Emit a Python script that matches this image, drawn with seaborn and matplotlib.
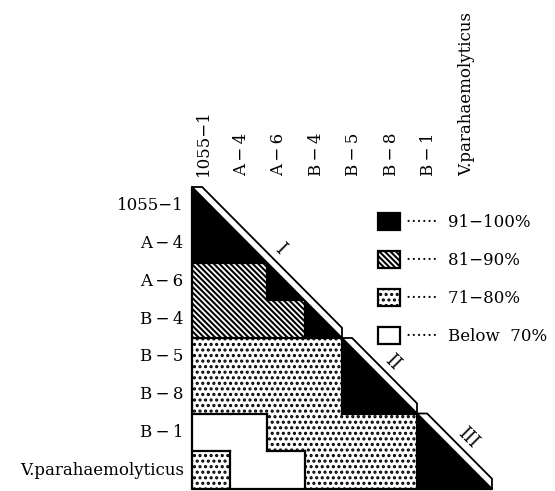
import numpy as np
import pandas as pd
import matplotlib
matplotlib.use("Agg")
import matplotlib.pyplot as plt
import seaborn as sns
from matplotlib.colors import ListedColormap
from matplotlib.patches import Polygon, Rectangle, Patch
from matplotlib.transforms import ScaledTranslation

# --- Strains (rows / columns) ---
strains = ["1055−1", "A\u2009−\u20094", "A\u2009−\u20096", "B\u2009−\u20094",
           "B\u2009−\u20095", "B\u2009−\u20098", "B\u2009−\u20091", "V.parahaemolyticus"]

# --- Similarity class, lower triangle incl. diagonal ---
# 3: 91-100%, 2: 81-90%, 1: 71-80%, 0: below 70%
row_1055_1 = [3]
row_a4 = [3, 3]
row_a6 = [2, 2, 3]
row_b4 = [2, 2, 2, 3]
row_b5 = [1, 1, 1, 1, 3]
row_b8 = [1, 1, 1, 1, 3, 3]
row_b1 = [0, 0, 1, 1, 1, 1, 3]
row_vp = [1, 0, 0, 1, 1, 1, 3, 3]
rows = [row_1055_1, row_a4, row_a6, row_b4, row_b5, row_b8, row_b1, row_vp]

# --- Clusters along the diagonal ---
cluster_names = ["I", "II", "III"]
cluster_sizes = [4, 2, 2]

# --- Legend ---
class_codes = [3, 2, 1, 0]
class_labels = ["91−100%", "81−90%", "71−80%", "Below  70%"]

# --- Style per class ---
fills = {3: "black", 2: "white", 1: "white", 0: "white"}
hatches = {3: None, 2: "\\\\\\\\\\\\", 1: "...", 0: None}

sns.set_theme(style="white")
plt.rcParams["font.family"] = ["DejaVu Serif", "Liberation Serif"]
plt.rcParams["text.color"] = "black"
plt.rcParams["xtick.color"] = "black"
plt.rcParams["ytick.color"] = "black"
plt.rcParams["hatch.linewidth"] = 1.5

n = len(strains)
mat = np.full((n, n), np.nan)
for i, r in enumerate(rows):
    mat[i, :len(r)] = r
df = pd.DataFrame(mat, index=strains, columns=strains)

fig = plt.figure(figsize=(5.55, 4.91), dpi=100)
ax = fig.add_axes([192 / 555, 2 / 491, 300 / 555, 302 / 491])

cmap = ListedColormap([fills[k] for k in range(4)])
mask = np.triu(np.ones((n, n), dtype=bool))  # diagonal drawn as half cells below
sns.heatmap(df, mask=mask, cmap=cmap, vmin=-0.5, vmax=3.5, cbar=False, ax=ax)

# diagonal half cells
for k in range(n):
    v = int(mat[k, k])
    ax.add_patch(Polygon([(k, k), (k, k + 1), (k + 1, k + 1)], closed=True,
                         facecolor=fills[v], edgecolor="none"))

# hatch overlays
for i in range(n):
    for j in range(i):
        h = hatches[int(mat[i, j])]
        if h:
            ax.add_patch(Rectangle((j, i), 1, 1, facecolor="none", edgecolor="black",
                                   linewidth=0, hatch=h))

# borders between classes
lw = 1.6
for i in range(n):
    for j in range(i):
        if mat[i, j] != mat[i, j + 1]:
            ax.plot([j + 1, j + 1], [i, i + 1], color="black", lw=lw, solid_capstyle="projecting")
        if i + 1 < n and mat[i, j] != mat[i + 1, j]:
            ax.plot([j, j + 1], [i + 1, i + 1], color="black", lw=lw, solid_capstyle="projecting")
    if i + 1 < n and mat[i, i] != mat[i + 1, i]:
        ax.plot([i, i + 1], [i + 1, i + 1], color="black", lw=lw)
ax.plot([0, 0], [0, n], color="black", lw=lw, clip_on=False)
ax.plot([0, n], [n, n], color="black", lw=lw, clip_on=False)

# cluster strips along the diagonal
d = 0.27
k0 = 0
for name, size in zip(cluster_names, cluster_sizes):
    k1 = k0 + size
    ax.add_patch(Polygon([(k0, k0), (k0 + d, k0), (k1, k1 - d), (k1, k1)], closed=True,
                         facecolor="white", edgecolor="black", lw=1.3, clip_on=False,
                         zorder=5))
    mid = (k0 + k1) / 2
    ax.text(mid + 0.35, mid - 0.35, name, rotation=-45, rotation_mode="anchor",
            ha="center", va="center", fontsize=13)
    k0 = k1

# tick labels
ax.xaxis.tick_top()
ax.tick_params(axis="both", length=0, labelsize=12)
ax.tick_params(axis="x", pad=8)
ax.tick_params(axis="y", pad=6)
ax.set_xticklabels(strains, rotation=90, ha="center", va="bottom")
ax.set_yticklabels(strains, rotation=0, va="center")
for lab in ax.get_xticklabels():
    lab.set_transform(lab.get_transform() + ScaledTranslation(-5 / 72, 0, fig.dpi_scale_trans))
ax.set_xlabel("")
ax.set_ylabel("")

# legend
handles = [Patch(facecolor=fills[c], edgecolor="black", hatch=hatches[c], linewidth=1.6)
           for c in class_codes]
labels = ["······  " + t for t in class_labels]
ax.legend(handles, labels, loc="upper left", bbox_to_anchor=(0.62, 0.915), frameon=False,
          fontsize=12, handlelength=1.3, handleheight=1.2, handletextpad=0.4,
          labelspacing=1.2, borderpad=0, borderaxespad=0)

fig.savefig("out.png", dpi=100)
